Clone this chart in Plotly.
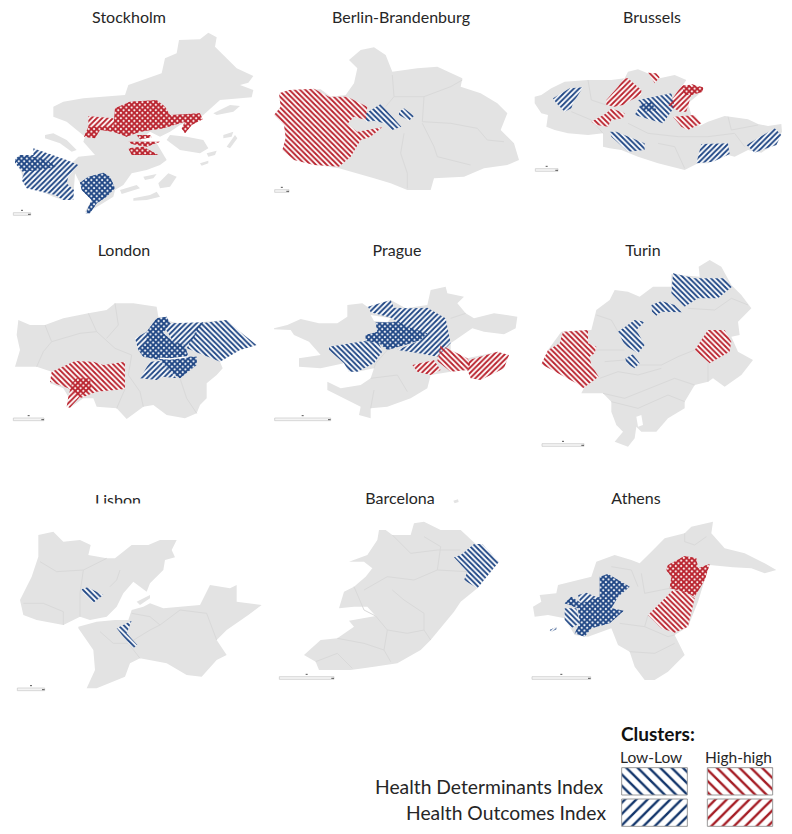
import plotly.graph_objects as go

W, H = 792, 834
LAND = "#e3e3e3"
EDGE = "#d9d9d9"
BLUE = "#1f4684"
RED = "#b9222d"
BLUE_LEG = "#12356b"
RED_LEG = "#a51c24"

# Map geometry is in local map units of each 792x690 panel frame.
STOCKHOLM_LAND = [
    [(160,320),(190,305),(250,295),(320,290),(375,285),(385,255),(440,235),(485,220),(495,175),(530,160),(537,120),(600,118),(625,98),(650,112),(645,140),(680,175),(710,205),(760,228),(745,248),(720,255),(760,270),(755,292),(700,297),(660,300),(610,345),(600,352),(540,375),(510,395),(480,410),(450,395),(420,420),(470,430),(500,480),(480,495),(440,510),(395,520),(370,555),(345,570),(340,590),(290,620),(260,640),(255,635),(275,600),(240,550),(225,520),(220,590),(190,600),(160,590),(70,550),(65,520),(45,480),(60,465),(100,465),(150,470),(215,490),(235,470),(285,465),(250,425),(255,410),(200,365),(160,350)],
    [(135,405),(160,400),(200,420),(230,450),(215,455),(180,430),(135,415)],
    [(510,405),(560,410),(610,420),(625,445),(600,460),(540,450),(500,420)],
    [(640,340),(690,315),(720,318),(700,335),(650,345)],
    [(600,490),(625,482),(625,490),(605,497)],
    [(620,460),(650,452),(645,465),(625,470)],
    [(670,405),(700,395),(695,410),(670,415)],
    [(680,440),(705,405),(712,415),(690,445)],
    [(400,595),(450,585),(470,575),(480,590),(440,600),(400,602)],
    [(475,550),(505,520),(530,530),(510,560),(480,565)],
    [(360,570),(410,555),(420,565),(385,575),(365,582)],
    [(430,530),(470,522),(460,535),(435,540)],
]
STOCKHOLM_LINES = []
STOCKHOLM_DET_LOW = [
    [(45,478),(60,465),(130,475),(170,500),(120,510),(70,515)],
    [(240,548),(265,530),(310,518),(330,530),(345,565),(320,590),(290,610),(270,640),(257,640),(275,600),(245,570)],
]
STOCKHOLM_OUT_LOW = [
    [(45,478),(60,465),(100,465),(100,445),(200,480),(235,495),(205,530),(200,550),(222,570),(220,600),(190,600),(165,585),(80,565),(65,540),(72,520),(45,490)],
    [(240,548),(265,530),(310,518),(330,530),(345,565),(320,590),(290,610),(270,640),(257,640),(275,600),(245,570)],
]
_ST_RED_MAIN = [(345,325),(390,305),(470,300),(495,320),(510,345),(600,340),(608,358),(575,375),(555,400),(545,385),(555,365),(520,375),(490,385),(420,395),(380,410),(340,395),(300,390),(285,415),(252,410),(265,380),(340,378)]
_ST_RED_ISLES = [
    [(410,405),(450,405),(455,412),(420,418)],
    [(385,425),(480,425),(440,440),(395,432)],
    [(385,445),(430,440),(475,465),(420,465),(395,465)],
]
STOCKHOLM_DET_HIGH = [_ST_RED_MAIN] + _ST_RED_ISLES
STOCKHOLM_OUT_HIGH = [_ST_RED_MAIN, [(265,348),(340,355),(345,380),(265,380)]] + _ST_RED_ISLES

BERLIN_LAND = [[(255,180),(290,150),(330,142),(365,165),(385,215),(460,205),(520,200),(570,225),(595,235),(590,260),(650,280),(700,310),(730,340),(710,390),(750,430),(765,480),(730,495),(660,505),(600,530),(510,535),(500,570),(430,570),(380,550),(330,535),(280,520),(225,505),(160,495),(90,480),(55,450),(65,415),(60,375),(30,345),(50,320),(45,280),(100,270),(170,268),(200,290),(245,285),(270,250),(280,205)]]
BERLIN_LINES = [
    [(385,225),(390,290),(365,320)],
    [(480,290),(560,260),(595,240)],
    [(475,365),(560,370),(640,385),(670,420),(720,425)],
    [(475,370),(510,440),(520,470),(620,495)],
    [(420,400),(410,460),(430,520),(430,565)],
    [(390,290),(480,290),(475,365)],
]
BERLIN_DET_LOW = [
    [(305,340),(350,312),(385,350),(412,380),(385,390),(360,370),(330,362),(305,365)],
    [(405,335),(420,325),(450,348),(435,362),(405,345)],
]
BERLIN_OUT_LOW = []
BERLIN_DET_HIGH = [[(45,280),(75,270),(150,266),(195,290),(250,290),(310,320),(305,360),(270,350),(250,372),(280,395),(355,382),(320,410),(290,420),(260,470),(225,500),(150,495),(90,480),(55,450),(65,415),(60,375),(30,345),(50,320)]]
BERLIN_OUT_HIGH = []

BRUSSELS_LAND = [[(20,290),(40,285),(70,265),(110,245),(180,240),(250,240),(290,235),(300,215),(330,208),(360,220),(395,235),(440,225),(475,240),(460,262),(500,255),(528,265),(510,285),(480,310),(490,345),(520,370),(510,380),(540,365),(590,348),(660,358),(690,372),(720,378),(760,372),(762,395),(745,430),(700,458),(660,450),(620,470),(600,465),(540,490),(510,490),(470,510),(430,500),(390,490),(330,470),(280,450),(245,445),(225,440),(225,400),(180,405),(120,400),(80,390),(55,380),(60,345),(40,340),(20,310)]]
BRUSSELS_LINES = [
    [(130,335),(190,360),(225,400)],
    [(300,370),(360,400),(450,410),(540,410),(620,400),(650,440)],
    [(390,430),(440,440),(470,505)],
    [(600,350),(610,390),(690,375)],
    [(180,240),(190,300),(235,315)],
]
BRUSSELS_DET_LOW = [
    [(330,300),(430,280),(440,320),(405,370),(370,360),(320,345),(340,310)],
    [(245,395),(265,395),(350,430),(350,450),(300,455),(250,410)],
]
BRUSSELS_OUT_LOW = [
    [(335,315),(370,305),(385,330),(350,335)],
    [(75,295),(125,265),(165,262),(135,310),(130,325),(110,335),(85,310)],
    [(520,432),(600,430),(605,462),(555,485),(505,490)],
    [(655,435),(740,385),(760,405),(745,435),(680,458)],
]
BRUSSELS_DET_HIGH = [
    [(360,218),(385,220),(395,232),(380,250)],
    [(190,365),(235,340),(250,325),(290,340),(285,355),(250,360),(240,380),(205,375)],
    [(462,262),(490,252),(525,262),(525,275),(490,285),(470,285)],
    [(435,350),(500,345),(520,370),(480,390),(460,380)],
]
BRUSSELS_OUT_HIGH = [
    [(288,235),(300,235),(340,270),(340,285),(300,305),(285,315),(260,320),(235,315),(235,300),(270,260)],
    [(420,315),(462,255),(525,262),(525,275),(490,285),(475,335),(455,335)],
]

LONDON_LAND = [[(55,255),(90,270),(135,270),(190,250),(265,235),(320,225),(345,205),(400,205),(470,215),(475,245),(515,260),(560,270),(600,262),(680,255),(720,290),(770,330),(720,345),(660,380),(668,400),(650,420),(620,445),(620,490),(600,510),(590,535),(555,550),(500,540),(460,510),(430,515),(380,552),(350,520),(290,515),(280,490),(250,490),(210,518),(200,515),(205,485),(190,460),(150,445),(155,410),(110,395),(45,395),(60,345),(50,300)]]
LONDON_LINES = [
    [(135,270),(155,320),(130,350),(110,395)],
    [(265,235),(290,290),(345,340),(395,360)],
    [(345,205),(355,270),(320,310)],
    [(155,320),(240,295),(290,290)],
    [(395,360),(385,420),(420,470),(430,515)],
    [(540,430),(560,490),(590,535)],
    [(375,462),(350,520)],
]
_LN_CORE = [(470,250),(500,245),(510,265),(490,295),(520,320),(555,330),(565,365),(590,365),(590,390),(540,430),(510,410),(480,375),(430,365),(415,345),(440,320),(440,290)]
_LN_RED_CORE = [(215,445),(230,430),(270,430),(275,460),(245,480),(210,518),(200,515),(205,485)]
LONDON_DET_LOW = [_LN_CORE, [(600,265),(680,255),(720,290),(770,330),(720,345),(660,380),(640,372),(560,340)]]
LONDON_OUT_LOW = [
    _LN_CORE,
    [(495,280),(510,265),(610,262),(565,335),(520,320)],
    [(405,310),(440,290),(440,320),(415,345)],
    [(420,430),(450,380),(480,378),(510,410),(530,430),(490,425),(470,435)],
]
LONDON_DET_HIGH = [[(150,440),(155,410),(225,378),(280,380),(310,390),(375,380),(375,462),(290,470),(240,490),(205,460)]]
LONDON_OUT_HIGH = [_LN_RED_CORE]

PRAGUE_LAND = [[(30,280),(70,270),(110,252),(165,265),(220,265),(250,245),(250,210),(295,205),(310,215),(380,195),(425,220),(490,210),(500,165),(545,155),(550,175),(600,185),(580,205),(605,235),(630,250),(690,235),(760,245),(755,280),(720,298),(660,290),(625,280),(595,300),(560,325),(560,345),(610,370),(700,350),(735,360),(720,400),(650,435),(620,430),(610,405),(560,410),(500,420),(490,460),(440,490),(370,515),(320,520),(320,550),(285,540),(290,515),(240,490),(190,465),(190,440),(230,460),(290,450),(320,430),(330,400),(280,410),(255,410),(240,385),(170,400),(105,395),(105,370),(170,360),(135,320),(90,300),(80,285),(30,283)]]
PRAGUE_LINES = [
    [(320,430),(400,420),(430,470)],
    [(370,345),(335,385),(330,400)],
    [(330,465),(320,520)],
    [(560,250),(605,235)],
]
_PR_CORE = [(335,262),(385,262),(400,258),(430,275),(490,295),(470,315),(430,328),(370,345),(345,325),(305,318),(305,300),(340,290)]
PRAGUE_DET_LOW = [[(195,335),(300,318),(345,325),(355,350),(330,385),(280,410),(255,410),(240,385),(195,345)], _PR_CORE]
PRAGUE_OUT_LOW = [_PR_CORE, [(312,215),(380,195),(390,218),(440,220),(490,218),(545,250),(560,325),(520,365),(465,355),(400,345),(470,315),(490,295),(430,275),(400,258),(380,248),(320,232)]]
PRAGUE_DET_HIGH = [[(530,330),(560,345),(610,370),(620,385),(610,405),(560,410),(520,378)]]
PRAGUE_OUT_HIGH = [[(445,390),(510,375),(530,405),(500,420),(460,410)], [(615,375),(700,350),(735,360),(720,400),(650,435),(620,430),(610,405)]]
PRAGUE_LAKE = [[(320,240),(380,250),(370,262),(330,258)]]

TURIN_LAND = [[(190,285),(205,225),(245,195),(260,165),(300,170),(335,185),(375,155),(430,155),(430,118),(515,125),(512,95),(545,75),(580,95),(610,150),(640,180),(670,220),(630,260),(635,300),(610,305),(630,350),(675,375),(640,420),(590,455),(555,430),(540,440),(500,450),(470,500),(470,520),(420,550),(385,590),(340,590),(325,575),(320,610),(300,635),(260,620),(285,590),(265,570),(250,530),(250,500),(225,475),(160,475),(170,455),(145,440),(40,388),(60,345),(100,290),(175,285)]]
TURIN_LINES = [
    [(205,240),(250,255),(270,290)],
    [(205,345),(290,345)],
    [(230,380),(290,375),(330,390),(400,390),(450,365),(500,345)],
    [(215,430),(270,410),(330,420),(400,400)],
    [(225,475),(290,490),(340,470),(440,430),(500,450)],
    [(250,500),(330,520),(420,480),(470,500)],
    [(480,220),(560,225),(610,190),(660,210)],
    [(540,385),(540,440)],
]
TURIN_BAY = [[(325,545),(340,540),(345,570),(330,575)]]
TURIN_DET_LOW = [
    [(435,115),(500,130),(590,130),(612,155),(570,190),(510,190),(470,215),(430,175)],
    [(370,210),(400,198),(440,210),(462,232),(400,230),(385,242),(372,230)],
    [(270,290),(320,255),(350,260),(325,285),(350,330),(330,355),(290,330)],
    [(292,370),(315,358),(335,385),(320,400),(295,385)],
]
TURIN_OUT_LOW = []
TURIN_DET_HIGH = [
    [(105,290),(180,285),(180,325),(205,335),(200,355),(185,365),(190,390),(212,425),(165,460),(145,445),(40,388),(60,345),(95,325)],
    [(540,285),(590,285),(610,320),(605,350),(545,385),(500,345)],
]
TURIN_OUT_HIGH = []

LISBON_LAND = [
    [(115,165),(160,155),(190,185),(240,180),(272,195),(265,225),(320,235),(345,235),(395,195),(445,195),(480,180),(530,180),(515,210),(525,232),(495,240),(490,270),(450,310),(440,335),(420,320),(400,305),(370,340),(350,380),(320,410),(270,420),(240,410),(190,435),(110,420),(70,405),(60,360),(95,290),(115,230)],
    [(235,440),(290,425),(345,420),(385,420),(395,390),(430,380),(450,370),(490,385),(600,375),(630,315),(690,325),(710,315),(710,365),(785,375),(745,405),(680,450),(650,480),(680,525),(650,540),(605,590),(560,585),(500,550),(420,535),(390,550),(375,590),(290,625),(260,625),(285,570),(280,510),(235,445)],
    [(410,365),(450,345),(450,355),(420,375)],
]
LISBON_LINES = [
    [(120,245),(170,275),(250,270),(320,235)],
    [(250,270),(240,340),(240,410)],
    [(70,370),(130,370),(190,395),(190,435)],
    [(330,320),(350,300),(360,270)],
    [(395,400),(450,410),(480,435),(540,390)],
    [(300,455),(340,490),(385,490),(420,535)],
    [(385,490),(450,450),(480,435)],
    [(540,390),(620,400),(650,480)],
]
LISBON_DET_LOW = [
    [(245,328),(262,322),(310,345),(280,368),(250,340)],
    [(350,445),(395,422),(380,460),(412,495),(400,505),(385,490)],
]
LISBON_OUT_LOW = []
LISBON_DET_HIGH = []
LISBON_OUT_HIGH = []

BARCELONA_LAND = [
    [(345,150),(365,150),(385,165),(440,165),(450,130),(480,125),(530,150),(590,150),(635,192),(705,245),(640,325),(590,365),(570,395),(550,420),(520,455),(500,480),(470,510),(400,550),(330,560),(260,570),(165,570),(155,545),(120,525),(170,480),(220,475),(270,440),(255,422),(335,408),(310,380),(270,380),(225,385),(240,335),(270,320),(305,290),(325,265),(300,245),(255,245),(310,225),(340,180)],
    [(568,62),(582,58),(584,66),(572,70)],
]
BARCELONA_LINES = [
    [(385,165),(440,220),(520,210),(590,210)],
    [(480,170),(530,200),(520,270)],
    [(300,330),(370,290),(450,300),(520,270),(610,275)],
    [(270,320),(300,390),(335,408),(370,450),(360,510),(380,545)],
    [(385,330),(420,360),(480,400),(480,450),(500,480)],
    [(370,450),(430,460),(480,450)],
    [(155,545),(220,520),(265,565)],
    [(220,475),(300,490),(360,510)],
]
BARCELONA_DET_LOW = [[(570,232),(590,225),(630,192),(655,192),(705,245),(640,325),(600,300),(610,275)]]
BARCELONA_OUT_LOW = []
BARCELONA_DET_HIGH = []
BARCELONA_OUT_HIGH = []

ATHENS_LAND = [
    [(15,380),(40,365),(35,345),(85,340),(90,315),(190,290),(205,245),(260,225),(310,240),(335,250),(370,215),(410,175),(470,160),(490,140),(555,125),(550,160),(590,205),(650,220),(710,250),(745,270),(710,280),(670,265),(615,262),(545,255),(530,300),(510,365),(480,440),(440,465),(470,525),(420,575),(380,600),(350,600),(320,560),(305,515),(270,495),(250,445),(180,470),(140,465),(110,415),(60,405),(20,410)],
    [(65,450),(85,440),(85,448),(70,455)],
]
ATHENS_LINES = [
    [(470,160),(470,185),(500,195),(535,170)],
    [(340,280),(350,340),(400,330),(425,325)],
    [(250,260),(310,270),(330,320)],
    [(275,430),(350,440),(420,470),(440,465)],
    [(305,515),(380,520),(440,490)],
    [(360,405),(350,440)],
]
_AT_BLUE_CORE = [(215,290),(240,282),(305,320),(270,350),(250,385),(287,392),(245,430),(190,445),(170,470),(140,460),(155,430),(150,385),(110,370),(130,350),(160,370),(215,350)]
_AT_RED_CORE = [(420,255),(470,228),(505,235),(510,265),(545,252),(530,300),(500,350),(470,335),(425,325),(430,290),(415,270)]
ATHENS_DET_LOW = [_AT_BLUE_CORE, [(110,385),(145,385),(155,430),(130,445),(110,420)]]
ATHENS_OUT_LOW = [_AT_BLUE_CORE, [(150,345),(175,338),(215,355),(210,375),(165,395)], [(65,450),(85,440),(85,448),(70,455)]]
ATHENS_DET_HIGH = [_AT_RED_CORE, [(360,405),(395,370),(435,330),(470,335),(500,355),(480,440),(440,458),(400,445)]]
ATHENS_OUT_HIGH = [_AT_RED_CORE]

CITY_NAMES = ["Stockholm", "Berlin-Brandenburg", "Brussels", "London", "Prague", "Turin", "Lisbon", "Barcelona", "Athens"]
TITLE_X = [129, 401, 652, 124, 397, 643, 118, 400, 636]
TITLE_Y = [18.5, 18.5, 18.5, 251.5, 251.5, 251.5, 501.5, 500, 500]
PANEL_X = [0, 264, 528, 0, 264, 528, 0, 264, 528]
PANEL_Y = [0, 0, 0, 235, 235, 235, 480, 480, 480]
# scale bars (x start, x end, y) in local map units
SCALE_BARS = [(40,92,642),(32,75,573),(22,90,510),(40,132,553),(32,200,553),(42,168,630),(52,134,628),(46,210,594),(12,188,594)]
LANDS = [STOCKHOLM_LAND, BERLIN_LAND, BRUSSELS_LAND, LONDON_LAND, PRAGUE_LAND, TURIN_LAND, LISBON_LAND, BARCELONA_LAND, ATHENS_LAND]
LINES = [STOCKHOLM_LINES, BERLIN_LINES, BRUSSELS_LINES, LONDON_LINES, PRAGUE_LINES, TURIN_LINES, LISBON_LINES, BARCELONA_LINES, ATHENS_LINES]
DET_LOW = [STOCKHOLM_DET_LOW, BERLIN_DET_LOW, BRUSSELS_DET_LOW, LONDON_DET_LOW, PRAGUE_DET_LOW, TURIN_DET_LOW, LISBON_DET_LOW, BARCELONA_DET_LOW, ATHENS_DET_LOW]
OUT_LOW = [STOCKHOLM_OUT_LOW, BERLIN_OUT_LOW, BRUSSELS_OUT_LOW, LONDON_OUT_LOW, PRAGUE_OUT_LOW, TURIN_OUT_LOW, LISBON_OUT_LOW, BARCELONA_OUT_LOW, ATHENS_OUT_LOW]
DET_HIGH = [STOCKHOLM_DET_HIGH, BERLIN_DET_HIGH, BRUSSELS_DET_HIGH, LONDON_DET_HIGH, PRAGUE_DET_HIGH, TURIN_DET_HIGH, LISBON_DET_HIGH, BARCELONA_DET_HIGH, ATHENS_DET_HIGH]
OUT_HIGH = [STOCKHOLM_OUT_HIGH, BERLIN_OUT_HIGH, BRUSSELS_OUT_HIGH, LONDON_OUT_HIGH, PRAGUE_OUT_HIGH, TURIN_OUT_HIGH, LISBON_OUT_HIGH, BARCELONA_OUT_HIGH, ATHENS_OUT_HIGH]
THAMES = [(480,370),(510,372),(540,368),(565,365)]

LEGEND_COLUMNS = ["Low-Low", "High-high"]
LEGEND_ROWS = ["Health Determinants Index", "Health Outcomes Index"]
LEGEND_BOXES = [
    ((755,158,952,240), "\\", BLUE_LEG), ((1012,158,1208,240), "\\", RED_LEG),
    ((755,252,952,334), "/", BLUE_LEG), ((1012,252,1208,334), "/", RED_LEG),
]


def flat(polys):
    xs, ys = [], []
    for p in polys:
        xs += [c[0] for c in p] + [p[0][0], None]
        ys += [c[1] for c in p] + [p[0][1], None]
    return xs, ys


fig = go.Figure()
layout = dict(width=W, height=H, margin=dict(l=0, r=0, t=0, b=0), showlegend=False,
              plot_bgcolor="white", paper_bgcolor="white")


def add_axes(idx, x0, y0, w, h, xr, yr):
    layout[f"xaxis{idx}"] = dict(domain=[x0 / W, (x0 + w) / W], range=xr, visible=False, anchor=f"y{idx}", fixedrange=True)
    layout[f"yaxis{idx}"] = dict(domain=[1 - (y0 + h) / H, 1 - y0 / H], range=yr, visible=False, anchor=f"x{idx}", fixedrange=True)


def solid(polys, color, ax):
    if not polys:
        return
    x, y = flat(polys)
    fig.add_trace(go.Scatter(x=x, y=y, mode="lines", fill="toself", fillcolor=color,
                             line=dict(width=0), hoverinfo="skip", xaxis=f"x{ax}", yaxis=f"y{ax}"))


def hatch(polys, shape, color, ax, size=3.8, solidity=0.5):
    if not polys:
        return
    x, y = flat(polys)
    fig.add_trace(go.Scatter(x=x, y=y, mode="lines", fill="toself",
                             fillpattern=dict(shape=shape, fgcolor=color, fgopacity=1, bgcolor="rgba(0,0,0,0)", size=size, solidity=solidity),
                             line=dict(width=0), hoverinfo="skip", xaxis=f"x{ax}", yaxis=f"y{ax}"))


for i, name in enumerate(CITY_NAMES):
    ax = i + 1
    add_axes(ax, PANEL_X[i], PANEL_Y[i], 264, 230, [0, 792], [690, 0])
    solid(LANDS[i], LAND, ax)
    if LINES[i]:
        xs, ys = [], []
        for p in LINES[i]:
            xs += [c[0] for c in p] + [None]
            ys += [c[1] for c in p] + [None]
        fig.add_trace(go.Scatter(x=xs, y=ys, mode="lines", line=dict(color=EDGE, width=1), hoverinfo="skip",
                                 xaxis=f"x{ax}", yaxis=f"y{ax}"))
    solid(DET_LOW[i] + OUT_LOW[i], "#ffffff", ax)
    solid(DET_HIGH[i] + OUT_HIGH[i], "#ffffff", ax)
    hatch(DET_LOW[i], "\\", BLUE, ax)
    hatch(OUT_LOW[i], "/", BLUE, ax)
    hatch(DET_HIGH[i], "\\", RED, ax)
    hatch(OUT_HIGH[i], "/", RED, ax)
    if name == "Prague":
        solid(PRAGUE_LAKE, "white", ax)
    if name == "Turin":
        solid(TURIN_BAY, "white", ax)
    if name == "London":
        fig.add_trace(go.Scatter(x=[c[0] for c in THAMES], y=[c[1] for c in THAMES], mode="lines",
                                 line=dict(color="white", width=1.5), hoverinfo="skip", xaxis=f"x{ax}", yaxis=f"y{ax}"))
    a, b, c = SCALE_BARS[i]
    fig.add_trace(go.Scatter(x=[a, b, b, a, a], y=[c - 4, c - 4, c + 4, c + 4, c - 4], mode="lines",
                             line=dict(color="#c8c8c8", width=0.7), fill="toself", fillcolor="#f4f4f4",
                             hoverinfo="skip", xaxis=f"x{ax}", yaxis=f"y{ax}"))
    fig.add_trace(go.Scatter(x=[b - 8, b, None, (a + b) / 2 - 3, (a + b) / 2 + 3],
                             y=[c + 1, c + 1, None, c - 11, c - 11], mode="lines",
                             line=dict(color="#555", width=1), hoverinfo="skip", xaxis=f"x{ax}", yaxis=f"y{ax}"))
    # titles are drawn as text marks so that the clipped Lisbon label can be masked as in the source
    fig.add_trace(go.Scatter(x=[(TITLE_X[i] - PANEL_X[i]) * 3], y=[(TITLE_Y[i] - PANEL_Y[i]) * 3], mode="text",
                             text=[name], textposition="middle center", cliponaxis=False,
                             textfont=dict(family="Lato", size=16, color="#262626"),
                             hoverinfo="skip", xaxis=f"x{ax}", yaxis=f"y{ax}"))

# Lisbon's label is cut off at its base in the source picture
shapes = [dict(type="rect", xref="paper", yref="paper", x0=90 / W, x1=150 / W,
               y0=1 - 512 / H, y1=1 - 503.5 / H, fillcolor="white", line=dict(width=0), layer="above")]

LEG = 10
add_axes(LEG, 370, 715, 422, 119, [0, 1266], [357, 0])
for (x0, y0, x1, y1), shape, color in LEGEND_BOXES:
    bx = [x0, x1, x1, x0, x0]
    by = [y0, y0, y1, y1, y0]
    fig.add_trace(go.Scatter(x=bx, y=by, mode="lines", fill="toself",
                             fillpattern=dict(shape=shape, fgcolor=color, fgopacity=1, bgcolor="white", size=8, solidity=0.3),
                             line=dict(color="#9a9a9a", width=1), hoverinfo="skip", xaxis=f"x{LEG}", yaxis=f"y{LEG}"))


def note(text, x, y, size, anchor="center", bold=False, color="#262626"):
    fig.add_annotation(text=f"<b>{text}</b>" if bold else text, xref="paper", yref="paper",
                       x=x / W, y=1 - y / H, xanchor=anchor, yanchor="middle", showarrow=False,
                       font=dict(family="Lato", size=size, color=color))


note("Clusters:", 619, 733, 19, "left", True, "#111111")
note(LEGEND_COLUMNS[0], 651, 757, 15.5)
note(LEGEND_COLUMNS[1], 738, 757, 15.5)
note(LEGEND_ROWS[0], 606, 786, 19.3, "right")
note(LEGEND_ROWS[1], 608, 812, 19.3, "right")

fig.update_layout(**layout, shapes=shapes)
fig.write_html("out.html", config=dict(displayModeBar=False),
               post_script="document.body.style.margin='0';document.body.style.overflow='hidden';")
